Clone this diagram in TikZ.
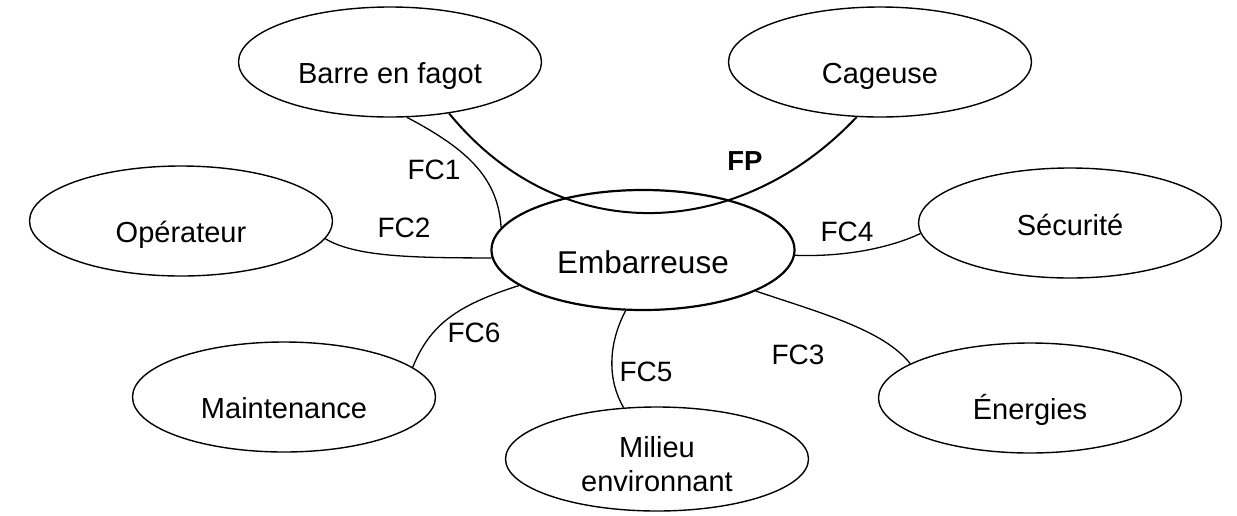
\documentclass[tikz,border=0pt]{standalone}
\usepackage{fontspec}
\setmainfont{Liberation Sans}
\usetikzlibrary{shapes.geometric}

\tikzset{
  bloc/.style={draw, ellipse, line width=1.4pt, minimum width=303pt, minimum height=110pt,
    inner sep=0pt, font=\fontsize{29}{34}\selectfont, text height=42pt, text depth=0pt},
  liaison/.style={line width=1.3pt},
  fc/.style={inner sep=0pt, font=\fontsize{28}{34}\selectfont},
}

\begin{document}
\begin{tikzpicture}[x=1pt, y=-1pt]

\useasboundingbox (0,0) rectangle (1237,515);

% les elements du milieu exterieur
\node (barre) [bloc] at (390,62) {Barre en fagot};
\node (cageuse) [bloc] at (880,62) {Cageuse};
\node (operateur) [bloc] at (181,221) {Opérateur};
\node (securite) [bloc, text height=24pt] at (1070,223) {Sécurité};
\node (maintenance) [bloc] at (284,397) {Maintenance};
\node (energies) [bloc] at (1030,398) {Énergies};
\node (milieu) [bloc, minimum height=104pt, text height=, text depth=, align=center] at (657,459)
  {\rule{0pt}{32pt}Milieu\\environnant};

% le produit
\node (embarreuse) [bloc, line width=2.2pt, minimum height=120pt,
  font=\fontsize{31.5}{38}\selectfont, text height=46pt] at (643,250) {Embarreuse};

% fonction principale
\draw [line width=2pt] (barre.-41) .. controls +(112,137) and +(-117,124) .. (cageuse.-113);
\node (fp) [fc, font=\fontsize{27.5}{33}\selectfont\bfseries] at (745,161) {FP};

% fonctions contraintes
\draw [liaison] (barre.-73) .. controls +(63,33) and +(-3,-48) .. (embarreuse.171);
\draw [liaison] (operateur.-7) .. controls +(30,18) and +(-80,0) .. (embarreuse.-177);
\draw [liaison] (embarreuse.-20) .. controls +(65,22) and +(-27,-34) .. (energies.164);
\draw [liaison] (embarreuse.-2) .. controls +(56,2) and +(-25,12) .. (securite.-176);
\draw [liaison] (embarreuse.-106) .. controls +(-18,34) and +(-16,-27) .. (milieu.123);
\draw [liaison] (embarreuse.-164) .. controls +(-63,20) and +(17,-42) .. (maintenance.13);

\node (fc1) [fc] at (434,170) {FC1};
\node (fc2) [fc] at (404,228) {FC2};
\node (fc3) [fc] at (798,355) {FC3};
\node (fc4) [fc] at (847,232) {FC4};
\node (fc5) [fc] at (646,372) {FC5};
\node (fc6) [fc] at (474,333) {FC6};

\end{tikzpicture}
\end{document}
